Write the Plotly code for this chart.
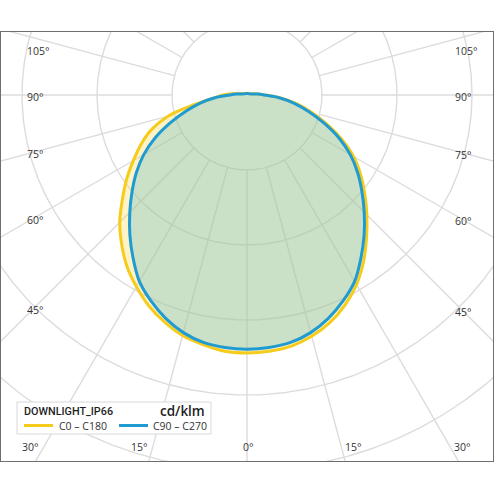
import numpy as np
import plotly.graph_objects as go

# ---- data (cd/klm) ----
gamma = [0, 5, 10, 15, 20, 25, 30, 35, 40, 45, 50, 55, 60, 65, 70, 75, 80, 85, 90,
         95, 100, 105, 110, 120, 135, 150, 165, 180]
c0 = [344, 343, 340, 333, 323, 309, 292, 271, 248, 226, 205, 185, 164, 139, 113, 89, 67, 45, 25,
      15, 9, 6, 4.7, 3.5, 2.8, 2.3, 2, 2]
c180 = [344, 343, 338, 332, 322, 310, 295, 279, 260, 240, 217, 196, 175, 156, 136, 109, 69, 44, 32,
        20, 12, 8, 6, 4, 3, 2.4, 2.1, 2]
c90 = [339, 338, 335, 328, 317, 303, 287, 265, 243, 221, 200, 180, 159, 135, 109, 85, 64, 43, 23,
       14, 8, 5.5, 4.4, 3.3, 2.6, 2.2, 2, 2]
c270 = [339, 338, 335, 328, 317, 303, 287, 265, 243, 221, 200, 180, 159, 135, 109, 85, 64, 43, 23,
        14, 8, 5.5, 4.4, 3.3, 2.6, 2.2, 2, 2]

series_names = ["C0 \u2013 C180", "C90 \u2013 C270"]
unit_label = "cd/klm"
luminaire = "DOWNLIGHT_IP66"

grid_radii = [100, 200, 300, 400, 500]
grid_angles = list(range(0, 360, 15))
side_label_angles = [105, 90, 75, 60, 45]
bottom_label_angles = [30, 15, 0, 15, 30]
bottom_label_sides = [-1, -1, 0, 1, 1]

YELLOW = "#f5cc1c"
BLUE = "#1f9bd2"
GRID = "#dcdcdc"
FONT = "Open Sans, sans-serif"

# pixel geometry of the chart (center of the polar diagram, px per cd/klm)
W = H = 494
ml, mr, mt, mb = 1, 1, 32, 33
cx_px, cy_px = 247, 95
scale = 0.75  # px per unit
pw, ph = W - ml - mr, H - mt - mb

x_range = [(ml - cx_px) / scale, (W - mr - cx_px) / scale]
y_range = [(cy_px - (H - mb)) / scale, (cy_px - mt) / scale]


def px_paper(px, py):
    return (px - ml) / pw, (H - mb - py) / ph


def plane_xy(right, left):
    g = np.radians(gamma)
    r_r = np.array(right, dtype=float)
    r_l = np.array(left, dtype=float)
    xr, yr = r_r * np.sin(g), -r_r * np.cos(g)
    xl, yl = -r_l * np.sin(g), -r_l * np.cos(g)
    x = np.concatenate([xl[::-1], xr[1:]])
    y = np.concatenate([yl[::-1], yr[1:]])
    return x, y


fig = go.Figure()

# grid circles
gx, gy = [], []
t = np.linspace(0, 2 * np.pi, 721)
for r in grid_radii:
    gx += list(r * np.sin(t)) + [None]
    gy += list(r * np.cos(t)) + [None]
# radial lines
for a in grid_angles:
    ar = np.radians(a)
    gx += [grid_radii[0] * np.sin(ar), 900 * np.sin(ar), None]
    gy += [-grid_radii[0] * np.cos(ar), -900 * np.cos(ar), None]
fig.add_trace(go.Scatter(x=gx, y=gy, mode="lines", line=dict(color=GRID, width=1.4),
                         hoverinfo="skip", showlegend=False))

xy_y = plane_xy(c0, c180)
xy_b = plane_xy(c90, c270)

spline = dict(shape="spline", smoothing=1.0)
fig.add_trace(go.Scatter(x=xy_y[0], y=xy_y[1], mode="lines", fill="toself",
                         fillcolor="rgba(250,212,50,0.28)", line=dict(width=0, **spline),
                         hoverinfo="skip", showlegend=False))
fig.add_trace(go.Scatter(x=xy_b[0], y=xy_b[1], mode="lines", fill="toself",
                         fillcolor="rgba(125,196,200,0.40)", line=dict(width=0, **spline),
                         hoverinfo="skip", showlegend=False))
fig.add_trace(go.Scatter(x=xy_y[0], y=xy_y[1], mode="lines",
                         line=dict(color=YELLOW, width=3, **spline),
                         showlegend=False, name=series_names[0]))
fig.add_trace(go.Scatter(x=xy_b[0], y=xy_b[1], mode="lines",
                         line=dict(color=BLUE, width=3, **spline),
                         showlegend=False, name=series_names[1]))

lab_font = dict(family=FONT, size=10.5, color="#333333")
ann = []
# side labels
y_top_lim = (cy_px - 48.5) / scale
for a in side_label_angles:
    cot = np.cos(np.radians(a)) / np.sin(np.radians(a))
    for xl_px in (25, 453):
        xc = ((xl_px + 9) - cx_px) / scale
        yv = min(-abs(xc) * cot, y_top_lim)
        ann.append(dict(x=(xl_px - cx_px) / scale, y=yv, xref="x", yref="y",
                        text=f"{a}\u00b0", showarrow=False, xanchor="left", yanchor="middle",
                        yshift=-2, font=lab_font))
# bottom labels
y_bot = (cy_px - 447) / scale
for a, s in zip(bottom_label_angles, bottom_label_sides):
    xv = s * abs(y_bot) * np.tan(np.radians(a))
    anchor = {-1: "right", 0: "center", 1: "left"}[s]
    shift = {-1: -3, 0: 1, 1: 2}[s]
    ann.append(dict(x=xv, y=y_bot, xref="x", yref="y", text=f"{a}\u00b0", showarrow=False,
                    xanchor=anchor, yanchor="middle", xshift=shift, font=lab_font))

# legend box (drawn as layout decoration)
shapes = []
bx0, by0 = px_paper(17, 434)
bx1, by1 = px_paper(211, 402)
shapes.append(dict(type="rect", xref="paper", yref="paper", x0=bx0, y0=by0, x1=bx1, y1=by1,
                   fillcolor="white", line=dict(color="#d8d8d8", width=1), layer="above"))
tx, ty = px_paper(22, 411.5)
ann.append(dict(x=tx, y=ty, xref="paper", yref="paper", text=luminaire, showarrow=False,
                xanchor="left", yanchor="middle",
                font=dict(family="Roboto, sans-serif", size=10.8, color="#1e1e1e", weight=500)))
ux, uy = px_paper(207, 411)
ann.append(dict(x=ux, y=uy, xref="paper", yref="paper", text=unit_label, showarrow=False,
                xanchor="right", yanchor="middle",
                font=dict(family=FONT, size=13.5, color="#1e1e1e", weight=600)))
for name, col, lx0, lx1, txt_x in ((series_names[0], YELLOW, 24, 53, 57),
                                   (series_names[1], BLUE, 119, 148, 151)):
    a0, yy = px_paper(lx0, 425.5)
    a1, _ = px_paper(lx1, 425.5)
    shapes.append(dict(type="line", xref="paper", yref="paper", x0=a0, x1=a1, y0=yy, y1=yy,
                       line=dict(color=col, width=3), layer="above"))
    nx, ny = px_paper(txt_x, 426)
    ann.append(dict(x=nx, y=ny, xref="paper", yref="paper", text=name, showarrow=False,
                    xanchor="left", yanchor="middle",
                    font=dict(family=FONT, size=10.5, color="#333333")))

fig.update_layout(
    width=W, height=H,
    margin=dict(l=ml, r=mr, t=mt, b=mb),
    paper_bgcolor="white", plot_bgcolor="white",
    xaxis=dict(range=x_range, showgrid=False, zeroline=False, showticklabels=False,
               ticks="", showline=True, mirror=True, linecolor="#6e6e6e", linewidth=1,
               fixedrange=True),
    yaxis=dict(range=y_range, showgrid=False, zeroline=False, showticklabels=False,
               ticks="", showline=True, mirror=True, linecolor="#6e6e6e", linewidth=1,
               fixedrange=True),
    showlegend=False,
    shapes=shapes,
    annotations=ann,
)

fig.write_html("out.html", config={"displayModeBar": False},
               post_script="document.body.style.margin='0px';")
